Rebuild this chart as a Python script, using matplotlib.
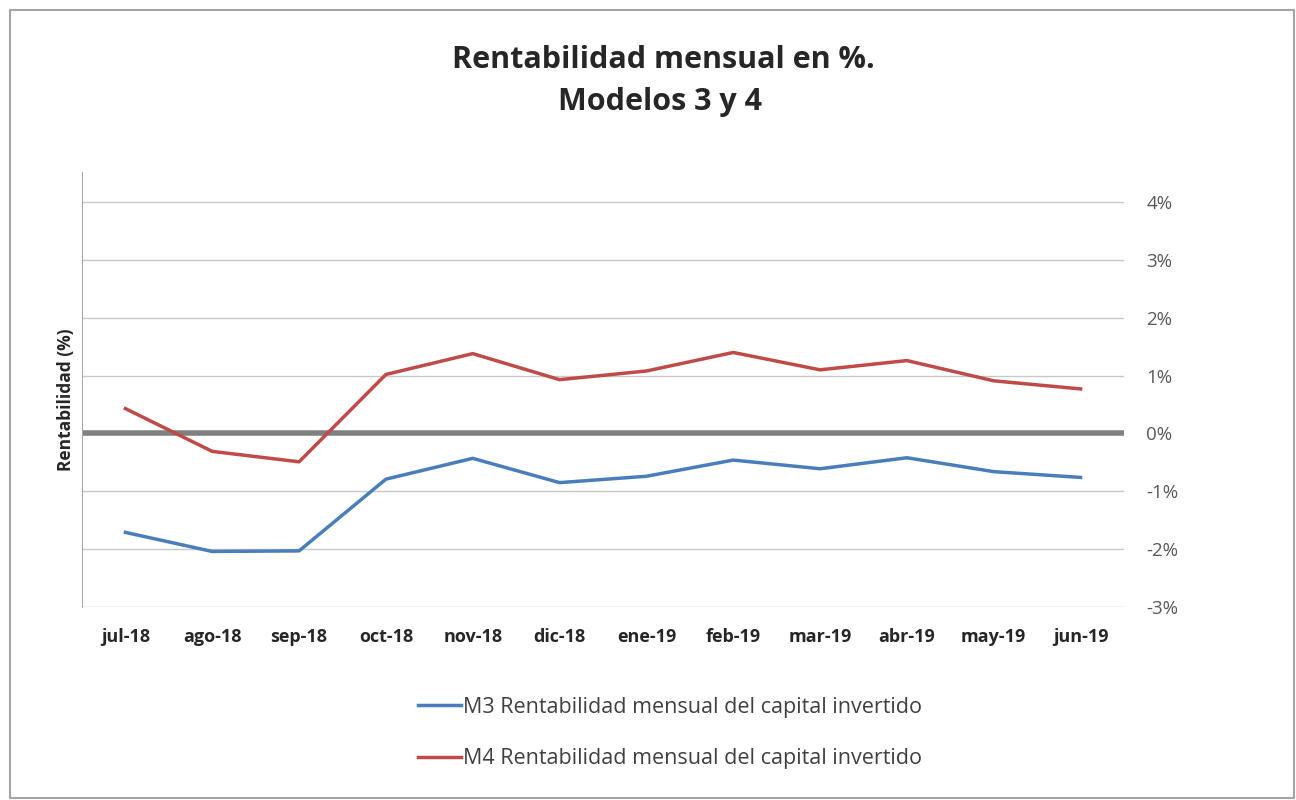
import matplotlib
matplotlib.use("Agg")
import matplotlib.pyplot as plt
from matplotlib.patches import Rectangle

plt.rcParams['font.family'] = ['Open Sans', 'DejaVu Sans']

months = ["jul-18", "ago-18", "sep-18", "oct-18", "nov-18", "dic-18",
          "ene-19", "feb-19", "mar-19", "abr-19", "may-19", "jun-19"]
m3 = [-1.71, -2.04, -2.03, -0.79, -0.43, -0.85, -0.74, -0.46, -0.61, -0.42, -0.66, -0.76]
m4 = [0.43, -0.31, -0.49, 1.02, 1.38, 0.93, 1.08, 1.40, 1.10, 1.26, 0.91, 0.77]
yticks = [-3, -2, -1, 0, 1, 2, 3, 4]
label_m3 = "M3 Rentabilidad mensual del capital invertido"
label_m4 = "M4 Rentabilidad mensual del capital invertido"
title_lines = ["Rentabilidad mensual en %.", "Modelos 3 y 4"]
ylabel = "Rentabilidad (%)"

W, H = 1296, 800
fig = plt.figure(figsize=(W / 100, H / 100), dpi=100)
fig.patches.append(Rectangle((10 / W, 2 / H), (W - 12) / W, (H - 12) / H,
                             transform=fig.transFigure, fill=False,
                             edgecolor="#a6a6a6", linewidth=1.5))

left, right, top, bottom = 82, 1124, 172, 607
ax = fig.add_axes([left / W, 1 - bottom / H, (right - left) / W, (bottom - top) / H])

x = list(range(len(months)))
ax.plot(x, m3, color="#4a7ebb", linewidth=2.5, label=label_m3, zorder=3)
ax.plot(x, m4, color="#be4b48", linewidth=2.5, label=label_m4, zorder=3)

for t in yticks:
    if t == 0:
        ax.axhline(t, color="#808080", linewidth=4, zorder=2)
    else:
        ax.axhline(t, color="#c8c8c8", linewidth=1, zorder=1)

ax.set_xlim(-0.5, len(months) - 0.5)
ax.set_ylim(-3, 4.52)
ax.set_yticks(yticks)
ax.set_yticklabels([f"{t}%" for t in yticks], color="#595959", fontsize=13.5)
ax.yaxis.tick_right()
ax.tick_params(axis="y", length=0, pad=16)
ax.set_xticks(x)
ax.set_xticklabels(months, fontsize=13, fontweight="bold", color="#262626")
ax.tick_params(axis="x", length=0, pad=15)

for s in ["top", "right", "bottom"]:
    ax.spines[s].set_visible(False)
ax.spines["left"].set_color("#a6a6a6")

fig.text(66 / W, 1 - 400 / H, ylabel, rotation=90, ha="center", va="center",
         fontsize=12.5, fontweight="bold", color="#262626")
fig.text(663 / W, 1 - 60 / H, title_lines[0], ha="center", va="center",
         fontsize=22, fontweight="bold", color="#262626")
fig.text(660 / W, 1 - 102 / H, title_lines[1], ha="center", va="center",
         fontsize=22, fontweight="bold", color="#262626")

handles, labels = ax.get_legend_handles_labels()
fig.legend(handles, labels, loc="center", bbox_to_anchor=(670 / W, 1 - 733 / H),
           frameon=False, fontsize=15.5, handlelength=2.0, handletextpad=0.1,
           labelspacing=1.4, labelcolor="#404040")

fig.savefig("out.png", dpi=100)
